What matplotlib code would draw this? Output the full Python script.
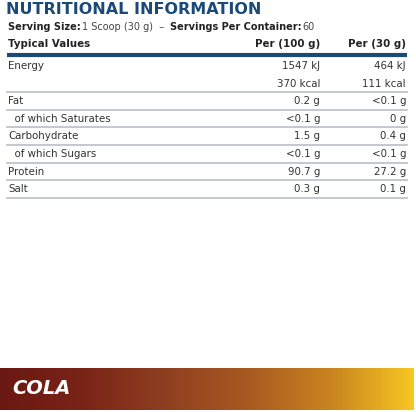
import numpy as np
import matplotlib.pyplot as plt
from matplotlib.colors import LinearSegmentedColormap

title = "NUTRITIONAL INFORMATION"
headers = ["Typical Values", "Per (100 g)", "Per (30 g)"]
nutrients = ["Energy", "", "Fat", "  of which Saturates", "Carbohydrate",
             "  of which Sugars", "Protein", "Salt"]
per_100g = ["1547 kJ", "370 kcal", "0.2 g", "<0.1 g", "1.5 g", "<0.1 g", "90.7 g", "0.3 g"]
per_30g = ["464 kJ", "111 kcal", "<0.1 g", "0 g", "0.4 g", "<0.1 g", "27.2 g", "0.1 g"]
flavour = "COLA"

W, H = 416, 412
fig = plt.figure(figsize=(W / 100, H / 100), dpi=100)
ax = fig.add_axes([0, 0, 1, 1])
ax.set_xlim(0, W)
ax.set_ylim(H, 0)
ax.axis("off")

blue = "#1b4a78"
txt = "#222222"
ax.text(6, 9, title, color=blue, fontsize=11.5, fontweight="bold", va="center")
ax.text(8, 27, "Serving Size:", fontsize=7, fontweight="bold", color=txt, va="center")
ax.text(82, 27, "1 Scoop (30 g)  –", fontsize=7, color="#444", va="center")
ax.text(170, 27, "Servings Per Container:", fontsize=7, fontweight="bold", color=txt, va="center")
ax.text(302, 27, "60", fontsize=7, color="#444", va="center")

ax.text(8, 44, headers[0], fontsize=7.4, fontweight="bold", color=txt, va="center")
ax.text(320, 44, headers[1], fontsize=7.4, fontweight="bold", color=txt, va="center", ha="right")
ax.text(406, 44, headers[2], fontsize=7.4, fontweight="bold", color=txt, va="center", ha="right")
ax.plot([7, 407], [55, 55], color=blue, lw=3, solid_capstyle="butt")

y0, dy = 66, 17.6
for i, (n, a, b) in enumerate(zip(nutrients, per_100g, per_30g)):
    y = y0 + i * dy
    ax.text(8, y, n, fontsize=7.4, color="#333", va="center")
    ax.text(320, y, a, fontsize=7.4, color="#333", va="center", ha="right")
    ax.text(406, y, b, fontsize=7.4, color="#333", va="center", ha="right")
    if i >= 1:
        ax.plot([7, 407], [y + 8.5, y + 8.5], color="#b9bfc6", lw=1.2)

cmap = LinearSegmentedColormap.from_list(
    "cola", ["#6a1812", "#7a2418", "#8e3f20", "#a85a22", "#c8841f", "#f7c623"])
grad = np.linspace(0, 1, 256).reshape(1, -1)
ax.imshow(grad, cmap=cmap, extent=[0, 414, 410, 368], aspect="auto")
ax.text(12, 389, flavour, fontsize=14, fontweight="bold", style="italic", color="white",
        va="center")
ax.set_xlim(0, W)
ax.set_ylim(H, 0)

fig.savefig("out.png", dpi=100)
